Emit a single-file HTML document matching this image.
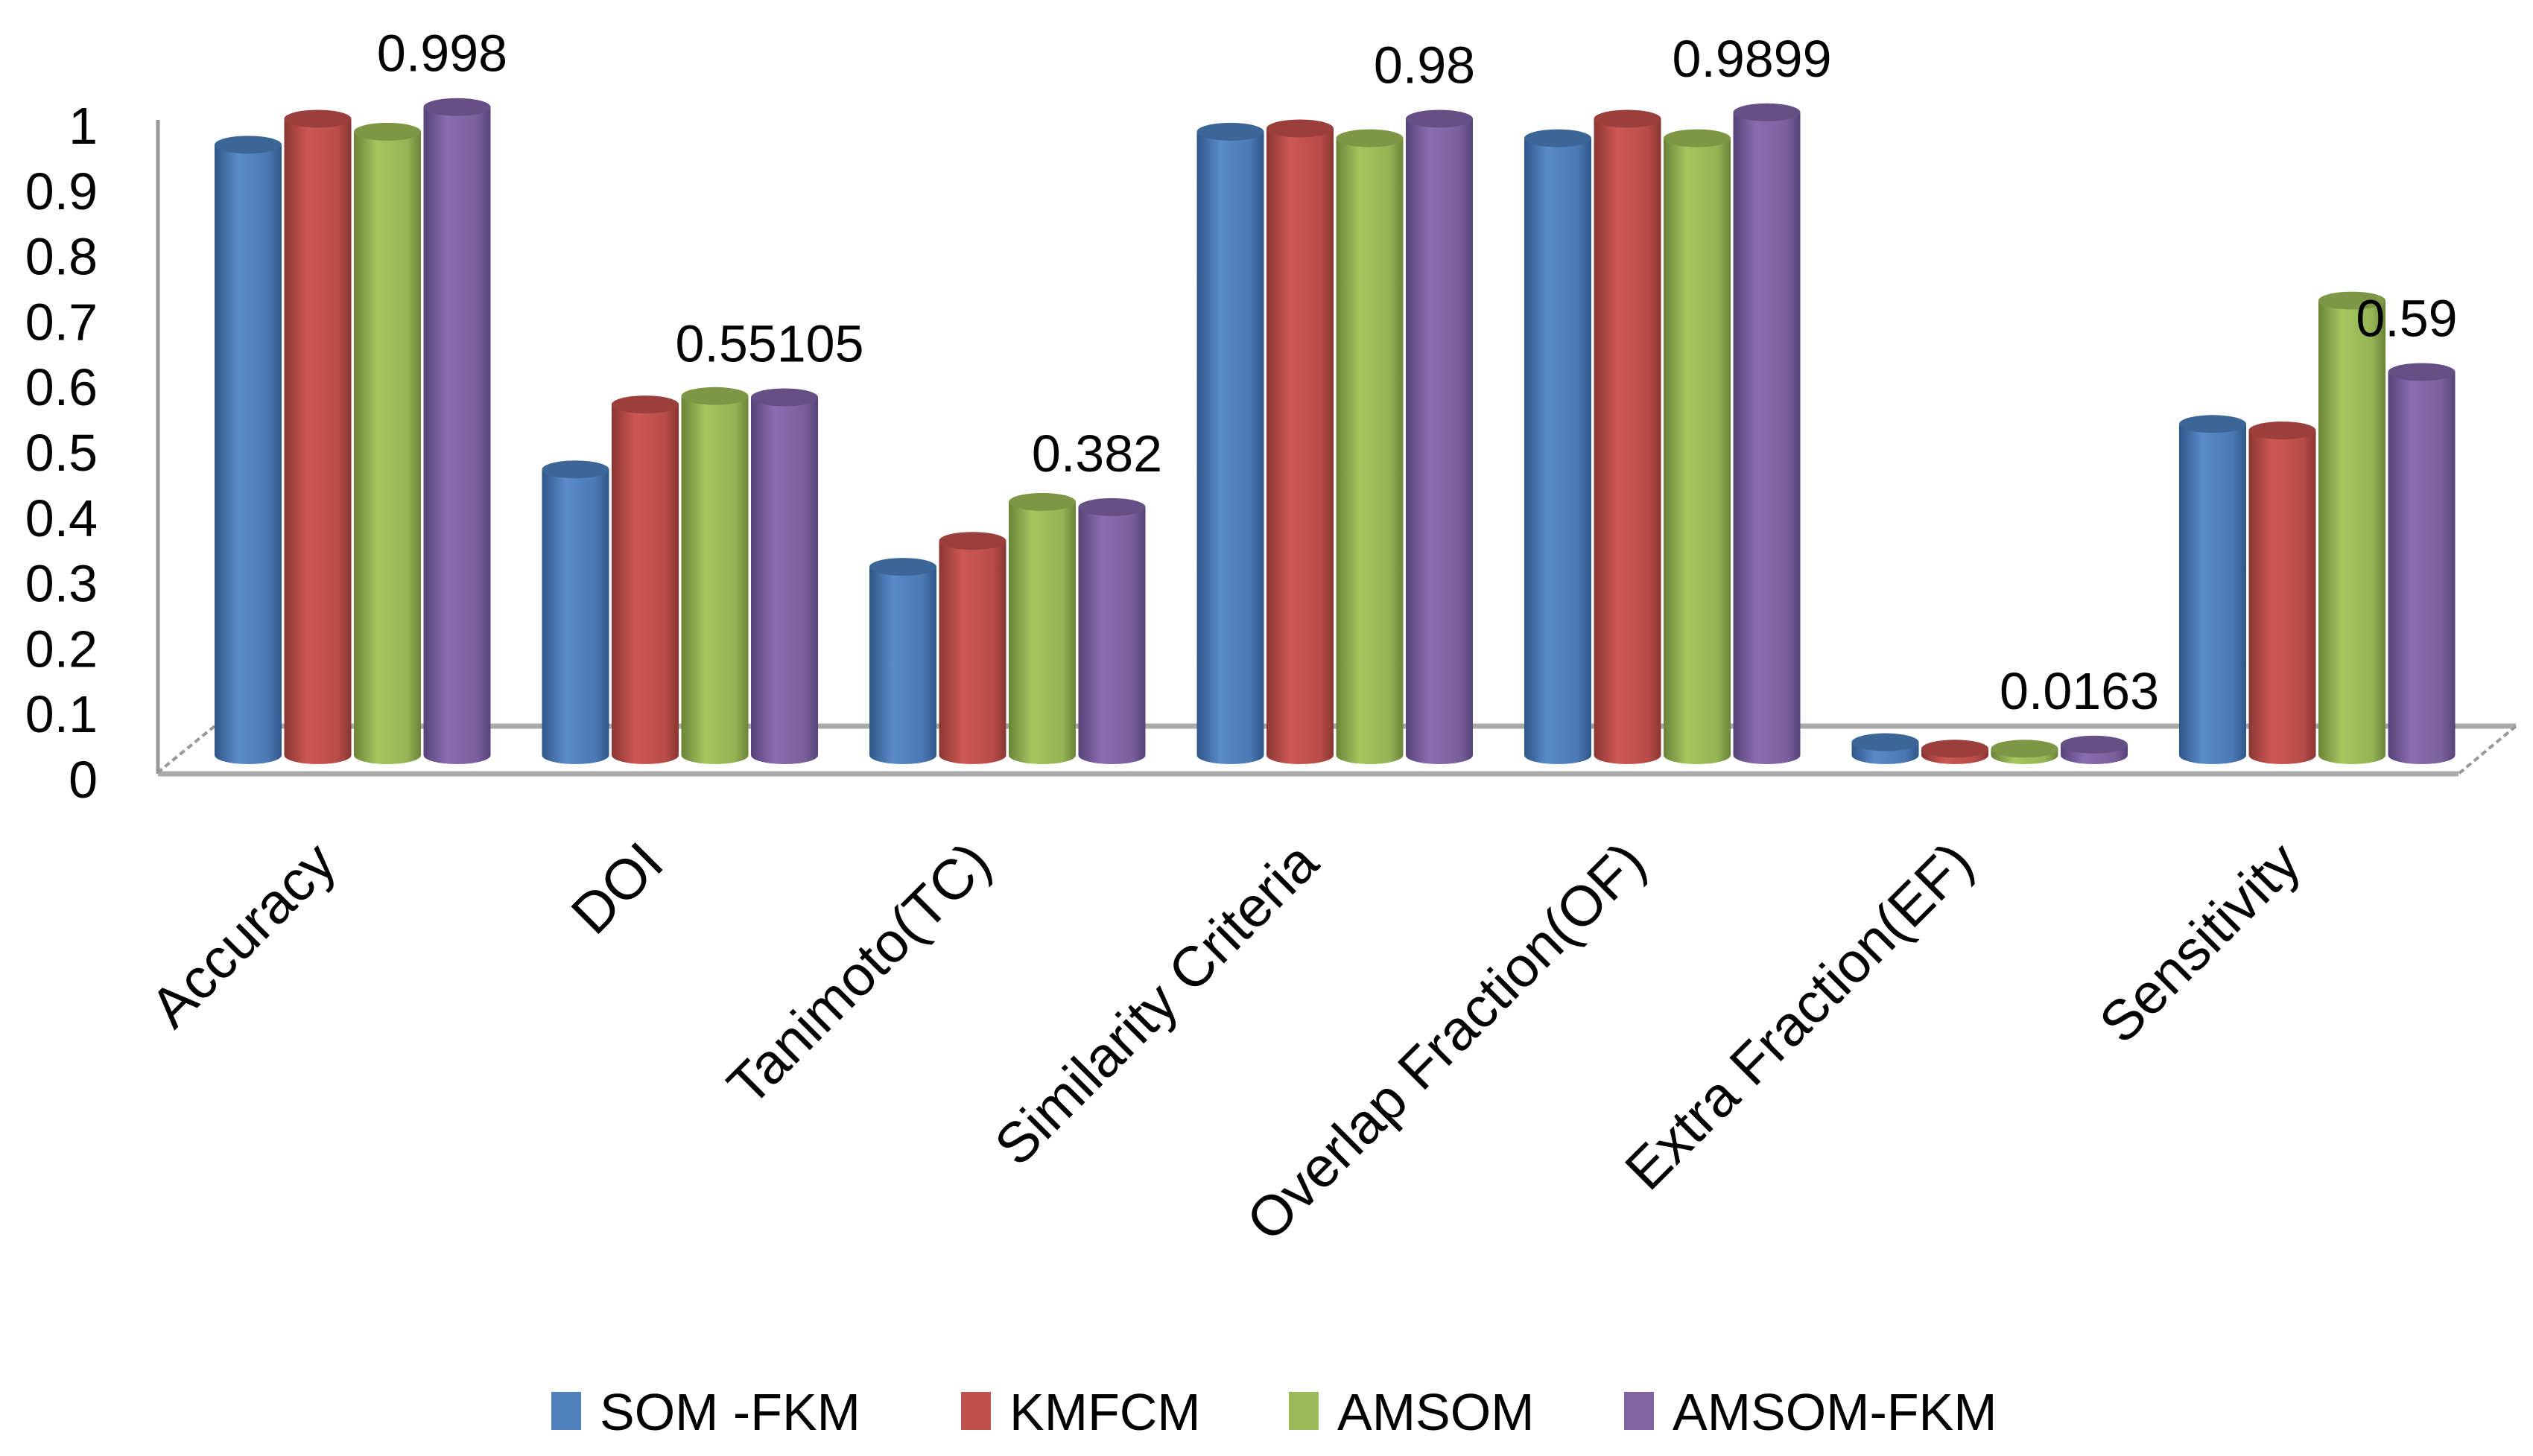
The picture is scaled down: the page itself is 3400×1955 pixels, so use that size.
<!DOCTYPE html>
<html><head><meta charset="utf-8"><style>
html,body{margin:0;padding:0;background:#fff;}
svg{display:block;font-family:"Liberation Sans","DejaVu Sans",sans-serif;}
</style></head><body>
<svg id="chart" width="3400" height="1955" viewBox="0 0 3400 1955" xmlns="http://www.w3.org/2000/svg">
<defs>
<linearGradient id="g0" x1="0" x2="1"><stop offset="0" stop-color="#2f5688"/><stop offset="0.35" stop-color="#5a8bc9"/><stop offset="0.8" stop-color="#4a78b3"/><stop offset="1" stop-color="#2f5688"/></linearGradient>
<linearGradient id="g1" x1="0" x2="1"><stop offset="0" stop-color="#8a3633"/><stop offset="0.35" stop-color="#cd5754"/><stop offset="0.8" stop-color="#b84c49"/><stop offset="1" stop-color="#8a3633"/></linearGradient>
<linearGradient id="g2" x1="0" x2="1"><stop offset="0" stop-color="#6a8438"/><stop offset="0.35" stop-color="#a6c65f"/><stop offset="0.8" stop-color="#94b455"/><stop offset="1" stop-color="#6a8438"/></linearGradient>
<linearGradient id="g3" x1="0" x2="1"><stop offset="0" stop-color="#56437a"/><stop offset="0.35" stop-color="#8a6db0"/><stop offset="0.8" stop-color="#7a5f9c"/><stop offset="1" stop-color="#56437a"/></linearGradient>
</defs>
<g id="axes">
<line x1="212" y1="161" x2="212" y2="1039" stroke="#999" stroke-width="5"/>
<line x1="288" y1="975" x2="3377" y2="975" stroke="#aaa" stroke-width="7"/>
<line x1="212" y1="1039" x2="3300" y2="1039" stroke="#aaa" stroke-width="7"/>
<line x1="3377" y1="975" x2="3300" y2="1039" stroke="#999" stroke-width="4" stroke-dasharray="8,5"/>
<line x1="288" y1="975" x2="212" y2="1037" stroke="#999" stroke-width="4" stroke-dasharray="8,5"/>
</g>
<g id="yticks"></g>
<g id="bars"></g>
<g id="vlabels"></g>
<g id="xlabels"></g>
<g id="legend"></g>
</svg>
<script>
const categories = ["Accuracy","DOI","Tanimoto(TC)","Similarity Criteria","Overlap Fraction(OF)","Extra Fraction(EF)","Sensitivity"];
const seriesNames = ["SOM -FKM","KMFCM","AMSOM","AMSOM-FKM"];
const somFkm   = [0.94, 0.44, 0.29, 0.96, 0.95, 0.02, 0.51];
const kmfcm    = [0.98, 0.54, 0.33, 0.965, 0.98, 0.01, 0.50];
const amsom    = [0.96, 0.553, 0.39, 0.95, 0.95, 0.01, 0.70];
const amsomFkm = [0.998, 0.55105, 0.382, 0.98, 0.9899, 0.0163, 0.59];
const valueLabels = ["0.998","0.55105","0.382","0.98","0.9899","0.0163","0.59"];
const yTicks = [0,0.1,0.2,0.3,0.4,0.5,0.6,0.7,0.8,0.9,1];
const yTickLabels = ["0","0.1","0.2","0.3","0.4","0.5","0.6","0.7","0.8","0.9","1"];

const series = [somFkm, kmfcm, amsom, amsomFkm];
const NS = "http://www.w3.org/2000/svg";
const axisY = v => 1046 - 878 * v;
const barY = v => 1014 - 872 * v;
const groupX = i => 288 + 439.5 * i;
const barX = (i, s) => groupX(i) + s * 93.5;
const BW = 90, RY = 12;
function mk(tag, attrs, parent) {
  const e = document.createElementNS(NS, tag);
  for (const k in attrs) e.setAttribute(k, attrs[k]);
  parent.appendChild(e);
  return e;
}
const yt = document.getElementById('yticks');
yTicks.forEach((v, k) => {
  const t = mk('text', {x: 131, y: axisY(v) + 25, 'text-anchor': 'end', 'font-size': 70, fill: '#000'}, yt);
  
  
  t.textContent = yTickLabels[k];
});
const bars = document.getElementById('bars');
categories.forEach((c, i) => {
  series.forEach((arr, s) => {
    const x = barX(i, s), top = barY(arr[i]), base = 1014;
    const g = mk('g', {}, bars);
    
    
    mk('ellipse', {cx: x + BW/2, cy: base, rx: BW/2, ry: RY, fill: 'url(#g' + s + ')'}, g);
    mk('rect', {x: x, y: top, width: BW, height: Math.max(0, base - top), fill: 'url(#g' + s + ')'}, g);
    const tc = ['#3c6698','#9a3f3c','#7d9747','#654f84'][s];
    mk('ellipse', {cx: x + BW/2, cy: top, rx: BW/2, ry: RY, fill: tc}, g);
  });
});
const vl = document.getElementById('vlabels');
categories.forEach((c, i) => {
  const top = barY(amsomFkm[i]);
  const t = mk('text', {x: barX(i, 3) + BW/2 - 20, y: top - 48, 'text-anchor': 'middle', 'font-size': 70, fill: '#000'}, vl);
  
  
  t.textContent = valueLabels[i];
});
const xl = document.getElementById('xlabels');
categories.forEach((c, i) => {
  const cx = groupX(i) + 187 - 20, cy = 1163;
  const t = mk('text', {x: cx, y: cy, 'text-anchor': 'end', 'font-size': 76, fill: '#000', transform: 'rotate(-45 ' + cx + ' ' + cy + ')'}, xl);
  
  
  t.textContent = c;
});
const lg = document.getElementById('legend');
const legX = [740, 1290, 1730, 2180];
const colors = ['#4f81bd','#c0504d','#9bbb59','#8064a2'];
seriesNames.forEach((n, s) => {
  const g = mk('g', {}, lg);
  
  
  mk('rect', {x: legX[s], y: 1869, width: 40, height: 51, fill: colors[s]}, g);
  const t = mk('text', {x: legX[s] + 65, y: 1920, 'font-size': 70, fill: '#000'}, g);
  t.textContent = n;
});
</script>
</body></html>
